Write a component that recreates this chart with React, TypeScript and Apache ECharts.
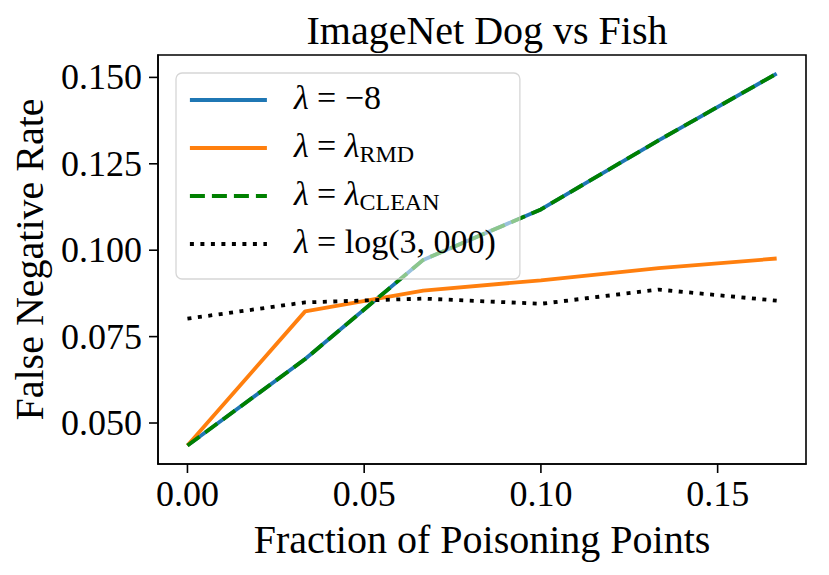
import React, { useEffect, useRef } from "react";
import * as echarts from "echarts";

const xValues = [0, 0.0333, 0.0667, 0.1, 0.1333, 0.1667];
const negEightY = [0.0435, 0.0685, 0.0972, 0.1118, 0.1318, 0.1511];
const rmdY = [0.0435, 0.0823, 0.0883, 0.0913, 0.0948, 0.0976];
const cleanY = [0.0435, 0.0685, 0.0972, 0.1118, 0.1318, 0.1511];
const logY = [0.0802, 0.0849, 0.086, 0.0845, 0.0886, 0.0854];

const xTicks = [0, 0.05, 0.1, 0.15];
const yTicks = [0.05, 0.075, 0.1, 0.125, 0.15];

const X_MIN = -0.008333;
const X_MAX = 0.175;
const Y_MIN = 0.03814;
const Y_MAX = 0.15648;

const seriesKeys = ["neg8", "rmd", "clean", "log"];
const legendLabels: Record<string, string> = {
  neg8: "{i|λ}{n| = −8}",
  rmd: "{i|λ}{n| = }{i|λ}{s|RMD}",
  clean: "{i|λ}{n| = }{i|λ}{s|CLEAN}",
  log: "{i|λ}{n| = log(3, 000)}",
};

const FONT = "'Liberation Serif', 'Times New Roman', serif";
const TICK_LEN = 9;

function pairs(ys: number[]) {
  return xValues.map((x, i) => [x, ys[i]]);
}

export default function App() {
  const ref = useRef<HTMLDivElement>(null);
  useEffect(() => {
    if (!ref.current) return;
    const chart = echarts.init(ref.current, undefined, { renderer: "svg" });
    const lw = 3.8;
    chart.setOption({
      animation: false,
      backgroundColor: "#fff",
      textStyle: { fontFamily: FONT },
      title: {
        text: "ImageNet Dog vs Fish",
        left: 482,
        top: 5,
        textAlign: "center",
        textStyle: { fontFamily: FONT, fontSize: 40, fontWeight: "normal", color: "#000" },
      },
      grid: {
        left: 158,
        top: 55,
        right: 23,
        bottom: 111,
        show: true,
        borderColor: "#000",
        borderWidth: 1.6,
        backgroundColor: "transparent",
      },
      xAxis: {
        type: "value",
        min: X_MIN,
        max: X_MAX,
        name: "Fraction of Poisoning Points",
        nameLocation: "middle",
        nameGap: 55,
        nameTextStyle: { fontFamily: FONT, fontSize: 40, color: "#000" },
        axisLine: { show: true, onZero: false, lineStyle: { color: "#000", width: 1.6 } },
        splitLine: { show: false },
        axisTick: { show: false },
        axisLabel: {
          margin: 12,
          fontFamily: FONT,
          fontSize: 36,
          color: "#000",
          customValues: xTicks,
          formatter: (v: number) => v.toFixed(2),
        },
      },
      yAxis: {
        type: "value",
        min: Y_MIN,
        max: Y_MAX,
        name: "False Negative Rate",
        nameLocation: "middle",
        nameGap: 109,
        nameRotate: 90,
        nameTextStyle: { fontFamily: FONT, fontSize: 40, color: "#000" },
        axisLine: { show: true, onZero: false, lineStyle: { color: "#000", width: 1.6 } },
        splitLine: { show: false },
        axisTick: { show: false },
        axisLabel: {
          margin: 16,
          fontFamily: FONT,
          fontSize: 36,
          color: "#000",
          customValues: yTicks,
          formatter: (v: number) => v.toFixed(3),
        },
      },
      legend: {
        left: 176,
        top: 73,
        orient: "vertical",
        itemWidth: 77,
        itemHeight: 40,
        itemGap: 10,
        padding: [7, 24, 17, 12],
        backgroundColor: "rgba(255,255,255,0.55)",
        borderColor: "rgba(204,204,204,0.8)",
        borderWidth: 1.3,
        borderRadius: 6,
        z: 10,
        data: seriesKeys,
        formatter: (name: string) => legendLabels[name],
        itemStyle: { color: "rgba(0,0,0,0)", borderColor: "rgba(0,0,0,0)", borderWidth: 0, opacity: 0 },
        lineStyle: { width: lw },
        textStyle: {
          fontFamily: FONT,
          fontSize: 34,
          color: "#000",
          padding: [0, 0, 0, 22],
          rich: {
            i: { fontFamily: FONT, fontSize: 34, fontStyle: "italic", lineHeight: 36, verticalAlign: "bottom", padding: [0, 0, 4, 0], color: "#000" },
            n: { fontFamily: FONT, fontSize: 34, lineHeight: 36, verticalAlign: "bottom", padding: [0, 0, 4, 0], color: "#000" },
            s: { fontFamily: FONT, fontSize: 24, lineHeight: 26, verticalAlign: "bottom", color: "#000" },
          },
        },
      },
      series: [
        {
          name: "neg8",
          type: "line",
          data: pairs(negEightY),
          symbol: "none",
          lineStyle: { color: "#1f77b4", width: lw },
          itemStyle: { color: "#1f77b4" },
        },
        {
          name: "rmd",
          type: "line",
          data: pairs(rmdY),
          symbol: "none",
          lineStyle: { color: "#ff7f0e", width: lw },
          itemStyle: { color: "#ff7f0e" },
        },
        {
          name: "clean",
          type: "line",
          data: pairs(cleanY),
          symbol: "none",
          lineStyle: { color: "#008000", width: lw, type: [15, 7], cap: "butt" },
          itemStyle: { color: "#008000" },
        },
        {
          name: "log",
          type: "line",
          data: pairs(logY),
          symbol: "none",
          lineStyle: { color: "#000", width: lw, type: [4, 6.5], cap: "butt" },
          itemStyle: { color: "#000" },
        },
      ],
    });

    const tickEls: any[] = [];
    xTicks.forEach((v) => {
      const p = chart.convertToPixel({ gridIndex: 0 }, [v, Y_MIN]) as number[];
      tickEls.push({
        type: "line",
        z: 100,
        silent: true,
        shape: { x1: p[0], y1: p[1], x2: p[0], y2: p[1] + TICK_LEN },
        style: { stroke: "#000", lineWidth: 1.6 },
      });
    });
    yTicks.forEach((v) => {
      const p = chart.convertToPixel({ gridIndex: 0 }, [X_MIN, v]) as number[];
      tickEls.push({
        type: "line",
        z: 100,
        silent: true,
        shape: { x1: p[0] - TICK_LEN, y1: p[1], x2: p[0], y2: p[1] },
        style: { stroke: "#000", lineWidth: 1.6 },
      });
    });
    chart.setOption({ graphic: tickEls });

    return () => chart.dispose();
  }, []);
  return (
    <div
      ref={ref}
      style={{ position: "fixed", left: 0, top: 0, width: 829, height: 575, background: "#fff" }}
    />
  );
}
